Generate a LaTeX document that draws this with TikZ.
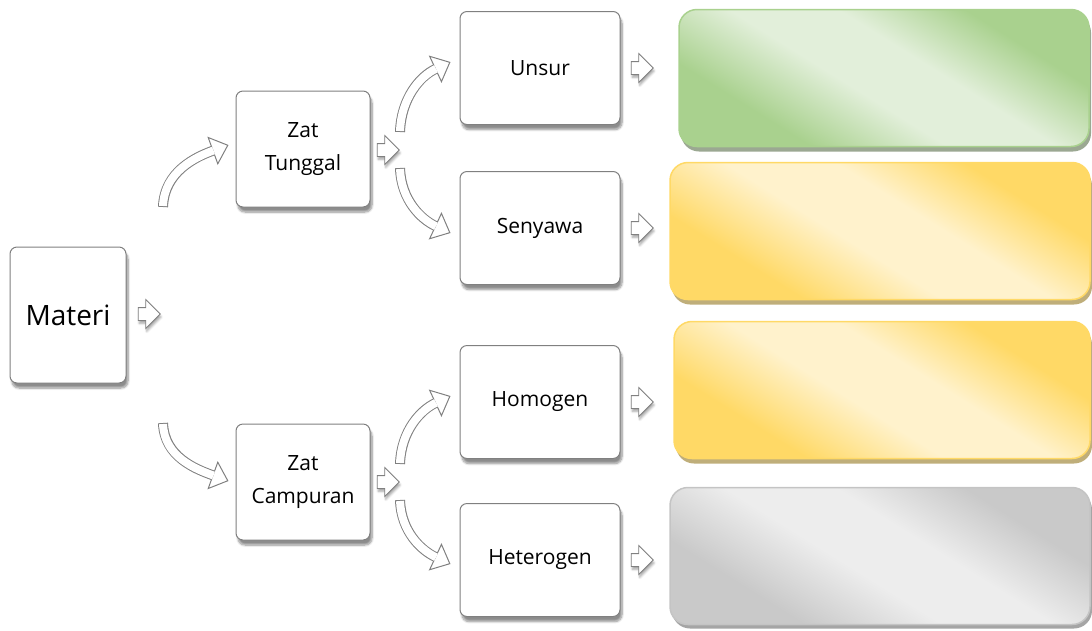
\documentclass[tikz,border=0pt]{standalone}
\usepackage{fontspec}
\setmainfont{Open Sans}
\usetikzlibrary{shapes.arrows,shadows,shadows.blur,arrows.meta}

\definecolor{boxline}{HTML}{808080}
\definecolor{gdark}{HTML}{A9D18E}
\definecolor{glight}{HTML}{E2EFDA}
\definecolor{gshade}{HTML}{9BA892}
\definecolor{ydark}{HTML}{FFD966}
\definecolor{ylight}{HTML}{FFF2CC}
\definecolor{yshade}{HTML}{BFAE7A}
\definecolor{sdark}{HTML}{C9C9C9}
\definecolor{slight}{HTML}{EDEDED}
\definecolor{sline}{HTML}{C4C4C4}
\definecolor{sshade}{HTML}{A5A5A5}

\pgfdeclarehorizontalshading{greenband}{100bp}{color(0bp)=(gdark); color(30bp)=(gdark); color(45bp)=(glight); color(57bp)=(glight); color(71bp)=(gdark); color(100bp)=(gdark)}
\pgfdeclarehorizontalshading{yellowband}{100bp}{color(0bp)=(ydark); color(30bp)=(ydark); color(45bp)=(ylight); color(57bp)=(ylight); color(71bp)=(ydark); color(100bp)=(ydark)}
\pgfdeclarehorizontalshading{silverband}{100bp}{color(0bp)=(sdark); color(30bp)=(sdark); color(45bp)=(slight); color(57bp)=(slight); color(71bp)=(sdark); color(100bp)=(sdark)}

\tikzset{
  box/.style={draw=boxline, line width=1pt, fill=white, rounded corners=7pt,
    minimum width=160pt, minimum height=113pt, align=center,
    font=\fontsize{21}{33}\selectfont,
    blur shadow={shadow xshift=2pt, shadow yshift=-5pt, shadow blur steps=8, shadow opacity=45}},
  zatbox/.style={box, minimum width=134pt, minimum height=116pt},
  blockarrow/.style={single arrow, draw=boxline, fill=white, line width=0.8pt,
    inner sep=6pt, minimum height=22pt, single arrow head extend=8pt,
    blur shadow={shadow xshift=1pt, shadow yshift=-3pt, shadow blur steps=5, shadow opacity=35}},
  swoopline/.style={line width=10pt, draw=boxline,
    -{Triangle[length=17pt, width=30pt, fill=white, line width=1pt]}},
  swoopfill/.style={line width=8pt, draw=white, shorten <=1pt, shorten >=16pt},
  panel/.style={shade, shading angle=58, rounded corners=18pt, line width=1.5pt,
    minimum width=420pt, minimum height=137pt}
}
\newcommand\swoop[4]{%
  \draw[swoopline] (#1) to[out=#3, in=#4] (#2);
  \draw[swoopfill] (#1) to[out=#3, in=#4] (#2);}

\begin{document}
\begin{tikzpicture}[x=1pt, y=1pt]
  \useasboundingbox (0,0) rectangle (1092,-630);

  % colour panels on the right
  \node[panel, shading=greenband, draw=gdark, minimum width=410pt,
    drop shadow={shadow xshift=2pt, shadow yshift=-5pt, fill=gshade, opacity=1}] (gp) at (884,-78) {};
  \node[panel, shading=yellowband, draw=ydark,
    drop shadow={shadow xshift=2pt, shadow yshift=-5pt, fill=yshade, opacity=1}] (yp1) at (880,-231) {};
  \node[panel, shading=yellowband, draw=ydark, minimum width=416pt,
    drop shadow={shadow xshift=2pt, shadow yshift=-5pt, fill=yshade, opacity=1}] (yp2) at (882,-390) {};
  \node[panel, shading=silverband, draw=sline,
    drop shadow={shadow xshift=2pt, shadow yshift=-4pt, fill=sshade, opacity=1}] (sp) at (880,-556) {};

  % tails of the curved arrows
  \coordinate (mt) at (163,-207);
  \coordinate (mb) at (163,-423);
  \coordinate (tt) at (400,-132);
  \coordinate (tb) at (400,-168);
  \coordinate (ct) at (400,-464);
  \coordinate (cb) at (400,-500);

  % boxes
  \node[box, minimum width=116pt, minimum height=136pt, font=\fontsize{28}{34}\selectfont] (mat) at (68,-315) {Materi};
  \node[blockarrow] (mata) at (146,-314) {};
  \node[zatbox] (zt) at (303,-149) {Zat\\Tunggal};
  \node[blockarrow] (zta) at (385,-150) {};
  \node[zatbox] (zc) at (303,-482) {Zat\\Campuran};
  \node[blockarrow] (zca) at (385,-482) {};
  \node[box] (un) at (540,-68) {Unsur};
  \node[blockarrow] (una) at (639,-68) {};
  \node[box] (se) at (540,-228) {Senyawa};
  \node[blockarrow] (sea) at (639,-228) {};
  \node[box] (ho) at (540,-402) {Homogen};
  \node[blockarrow] (hoa) at (639,-402) {};
  \node[box] (he) at (540,-560) {Heterogen};
  \node[blockarrow] (hea) at (639,-560) {};

  \swoop{mt}{[xshift=-7pt,yshift=4pt]zt.west}{88}{200}
  \swoop{mb}{[xshift=-7pt,yshift=1pt]zc.west}{-88}{160}
  \swoop{tt}{[xshift=-9pt,yshift=6pt]un.west}{88}{205}
  \swoop{tb}{[xshift=-9pt,yshift=-5pt]se.west}{-88}{155}
  \swoop{ct}{[xshift=-9pt,yshift=6pt]ho.west}{88}{205}
  \swoop{cb}{[xshift=-9pt,yshift=-4pt]he.west}{-88}{155}
\end{tikzpicture}
\end{document}
